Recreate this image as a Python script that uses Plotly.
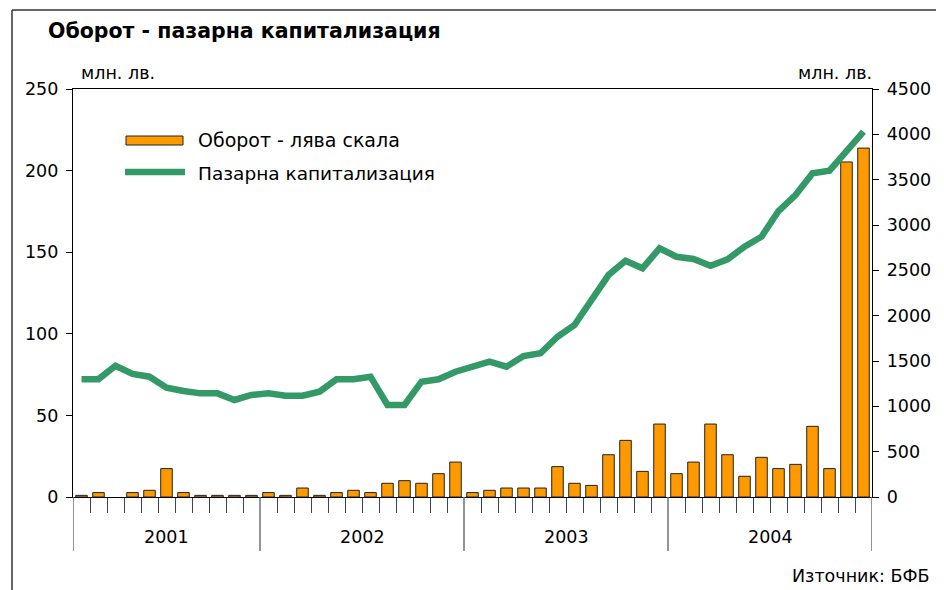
import plotly.graph_objects as go

# ---------------- data ----------------
years = ["2001", "2002", "2003", "2004"]
months_per_year = [11, 12, 12, 12]

turnover = [  # млн. лв., left scale
    1.0, 2.7, None, 2.7, 4.1, 17.4, 2.7, 1.0, 1.0, 1.0, 1.0,
    2.7, 1.0, 5.5, 1.0, 2.7, 4.1, 2.7, 8.4, 10.0, 8.4, 14.3, 21.4,
    2.7, 4.1, 5.5, 5.5, 5.5, 18.6, 8.4, 7.1, 25.9, 34.7, 15.7, 44.7,
    14.3, 21.4, 44.7, 25.9, 12.7, 24.3, 17.4, 20.0, 43.3, 17.4, 205.3, 213.8,
]
market_cap = [  # млн. лв., right scale
    1300, 1300, 1448, 1357, 1327, 1206, 1169, 1143, 1143, 1070, 1125,
    1143, 1118, 1118, 1162, 1298, 1298, 1327, 1015, 1015, 1272, 1298, 1382,
    1430, 1492, 1437, 1555, 1585, 1768, 1897, 2173, 2448, 2606, 2522, 2743,
    2650, 2625, 2551, 2621, 2761, 2871, 3154, 3331, 3570, 3599, 3827, 4029,
]
left_ticks = [0, 50, 100, 150, 200, 250]
right_ticks = [0, 500, 1000, 1500, 2000, 2500, 3000, 3500, 4000, 4500]

title_text = "Оборот - пазарна капитализация"
unit_text = "млн. лв."
legend_bar = "Оборот - лява скала"
legend_line = "Пазарна капитализация"
source_text = "Източник: БФБ"

# ---------------- layout geometry ----------------
OFF = 8                                  # page body margin of the html page
W, H = 944 - OFF, 590 - OFF
L, R, T, B = 73 - OFF, 872 - OFF, 89 - OFF, 497 - OFF   # plot area (figure pixels)
FONT = "DejaVu Sans"
ORANGE = "#FF9900"
GREEN = "#339966"

def px(x):
    """page pixel x -> paper x"""
    return (x - OFF - L) / (R - L)

def py(y):
    """page pixel y -> paper y"""
    return (B - (y - OFF)) / (B - T)

n = len(turnover)
xpos = [i + 0.5 for i in range(n)]

fig = go.Figure()
fig.add_trace(go.Bar(
    x=xpos, y=turnover, width=0.68,
    marker=dict(color=ORANGE, line=dict(color="#222222", width=1)),
    name=legend_bar, yaxis="y", showlegend=False,
))
fig.add_trace(go.Scatter(
    x=xpos, y=market_cap, mode="lines",
    line=dict(color=GREEN, width=6.5),
    name=legend_line, yaxis="y2", showlegend=False,
))

# year boundaries
bounds = [0]
for m in months_per_year:
    bounds.append(bounds[-1] + m)

shapes = []
for b in bounds:
    shapes.append(dict(type="line", xref="x", yref="paper", x0=b, x1=b,
                       y0=0, y1=py(551), line=dict(color="#707070", width=1.5)))
# outer frame (top and left)
shapes.append(dict(type="line", xref="paper", yref="paper", x0=px(12), x1=px(944),
                   y0=py(10), y1=py(10), line=dict(color="#333333", width=1.5)))
shapes.append(dict(type="line", xref="paper", yref="paper", x0=px(12), x1=px(12),
                   y0=py(10), y1=py(590), line=dict(color="#333333", width=1.5)))
# manual legend swatches
shapes.append(dict(type="rect", xref="paper", yref="paper", x0=px(126), x1=px(183),
                   y0=py(145), y1=py(136), fillcolor=ORANGE,
                   line=dict(color="#222222", width=1)))
shapes.append(dict(type="line", xref="paper", yref="paper", x0=px(125), x1=px(185),
                   y0=py(172), y1=py(172), line=dict(color=GREEN, width=6.5)))

annotations = [
    dict(text=f"<b>{title_text}</b>", x=px(46), y=py(31), xref="paper", yref="paper",
         xanchor="left", yanchor="middle", showarrow=False,
         font=dict(family=FONT, size=20.5, color="black")),
    dict(text=unit_text, x=px(79), y=py(73), xref="paper", yref="paper",
         xanchor="left", yanchor="middle", showarrow=False,
         font=dict(family=FONT, size=17.5, color="black")),
    dict(text=unit_text, x=px(874), y=py(73), xref="paper", yref="paper",
         xanchor="right", yanchor="middle", showarrow=False,
         font=dict(family=FONT, size=17.5, color="black")),
    dict(text=legend_bar, x=px(196), y=py(140), xref="paper", yref="paper",
         xanchor="left", yanchor="middle", showarrow=False,
         font=dict(family=FONT, size=19, color="black")),
    dict(text=legend_line, x=px(196), y=py(173), xref="paper", yref="paper",
         xanchor="left", yanchor="middle", showarrow=False,
         font=dict(family=FONT, size=18.5, color="black")),
    dict(text=source_text, x=px(932), y=py(576), xref="paper", yref="paper",
         xanchor="right", yanchor="middle", showarrow=False,
         font=dict(family=FONT, size=17.5, color="black")),
]
for i, yr in enumerate(years):
    annotations.append(dict(text=yr, x=(bounds[i] + bounds[i + 1]) / 2, y=py(537),
                            xref="x", yref="paper", xanchor="center", yanchor="middle",
                            showarrow=False, font=dict(family=FONT, size=17.5, color="black")))

minor_ticks = [i for i in range(n + 1) if i not in bounds]

fig.update_layout(
    width=W, height=H,
    margin=dict(l=L, r=W - R, t=T, b=H - B, pad=0),
    paper_bgcolor="white", plot_bgcolor="white",
    font=dict(family=FONT, size=17, color="black"),
    bargap=0.3,
    xaxis=dict(range=[0, n], tickvals=minor_ticks, ticks="outside", ticklen=15,
               tickcolor="#444444", tickwidth=1.3, showticklabels=False,
               showgrid=False, zeroline=False, showline=True, linecolor="black",
               linewidth=1.3, mirror=True, fixedrange=True),
    yaxis=dict(range=[0, 250], tickvals=left_ticks, ticks="outside", ticklen=6,
               tickcolor="black", showgrid=False, zeroline=False, showline=True,
               linecolor="black", linewidth=1.3, tickfont=dict(size=17.5),
               ticklabelstandoff=4),
    yaxis2=dict(range=[0, 4500], tickvals=right_ticks, ticks="outside", ticklen=6,
                tickcolor="black", showgrid=False, zeroline=False, showline=True,
                linecolor="black", linewidth=1.3, overlaying="y", side="right",
                tickfont=dict(size=17.5), ticklabelstandoff=4),
    shapes=shapes, annotations=annotations, showlegend=False,
)

fig.write_html("out.html")
